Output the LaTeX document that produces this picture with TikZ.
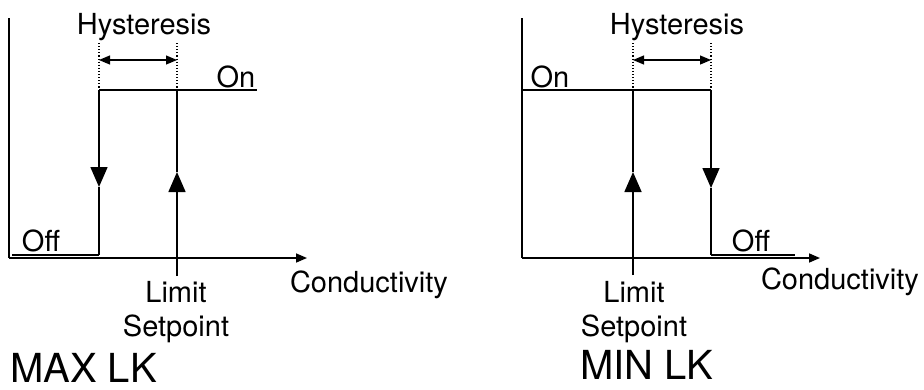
\documentclass[tikz,border=0pt]{standalone}
\usepackage{fontspec}
\setmainfont{TeX Gyre Heros}
\usetikzlibrary{arrows.meta, positioning}

\tikzset{
  lbl/.style={font=\fontsize{29}{34}\selectfont, inner sep=0pt, align=center},
  ttl/.style={font=\fontsize{40}{44}\selectfont, inner sep=0pt, anchor=base west},
  ln/.style={line width=1.6pt},
  guide/.style={line width=1.1pt, dotted},
  flow/.style={ln, -{Triangle[width=17pt,length=20pt]}},
  span/.style={line width=1.2pt, {Triangle[width=9pt,length=11pt]}-{Triangle[width=9pt,length=11pt]}},
  axis/.style={ln, -{Triangle[width=9pt,length=11pt]}}
}

\begin{document}
\begin{tikzpicture}[x=1pt, y=-1pt]
  \useasboundingbox (0,0) rectangle (924,389);

  % MAX LK
  \coordinate (maxTop) at (9,18);
  \coordinate (maxO) at (9,258);
  \coordinate (maxEnd) at (307,258);
  \coordinate (maxOffA) at (12,255);
  \coordinate (maxOffB) at (99,255);
  \coordinate (maxDnTop) at (99,90);
  \coordinate (maxDnMid) at (99,187);
  \coordinate (maxUpTop) at (177,90);
  \coordinate (maxUpMid) at (177,172);
  \coordinate (maxUpBot) at (177,276);
  \coordinate (maxOnEnd) at (257,90);
  \coordinate (maxHysA) at (99,43);
  \coordinate (maxHysB) at (177,43);
  \coordinate (maxSpanA) at (99,60);
  \coordinate (maxSpanB) at (177,60);

  \draw[ln] (maxTop) -- (maxO);
  \draw[axis] (maxO) -- (maxEnd);
  \draw[ln] (maxOffA) -- (maxOffB);
  \draw[ln] (maxDnTop) -- (maxOnEnd);
  \draw[flow] (maxDnTop) -- (maxDnMid);
  \draw[ln] (maxDnMid) -- (maxOffB);
  \draw[flow] (maxUpBot) -- (maxUpMid);
  \draw[ln] (maxUpMid) -- (maxUpTop);
  \draw[guide] (maxHysA) -- (maxDnTop);
  \draw[guide] (maxHysB) -- (maxUpTop);
  \draw[span] (maxSpanA) -- (maxSpanB);

  \node[lbl] (maxHys) at (144,27) {Hysteresis};
  \node[lbl] (maxOn) at (236,77) {On};
  \node[lbl] (maxOff) at (41,241) {Off};
  \node[lbl] (maxSet) at (176,312) {Limit\\Setpoint};
  \node[lbl] (maxCond) at (369,285) {Conductivity};
  \node[ttl] (maxTitle) at (10,382) {MAX LK};

  % MIN LK
  \coordinate (minTop) at (522,18);
  \coordinate (minO) at (522,258);
  \coordinate (minEnd) at (820,258);
  \coordinate (minOnA) at (522,90);
  \coordinate (minUpTop) at (633,90);
  \coordinate (minUpMid) at (633,172);
  \coordinate (minUpBot) at (633,275);
  \coordinate (minDnTop) at (711,90);
  \coordinate (minDnMid) at (711,188);
  \coordinate (minOffA) at (711,255);
  \coordinate (minOffB) at (795,255);
  \coordinate (minHysA) at (633,43);
  \coordinate (minHysB) at (711,43);
  \coordinate (minSpanA) at (633,60);
  \coordinate (minSpanB) at (711,60);

  \draw[ln] (minTop) -- (minO);
  \draw[axis] (minO) -- (minEnd);
  \draw[ln] (minOnA) -- (minDnTop);
  \draw[flow] (minUpBot) -- (minUpMid);
  \draw[ln] (minUpMid) -- (minUpTop);
  \draw[flow] (minDnTop) -- (minDnMid);
  \draw[ln] (minDnMid) -- (minOffA);
  \draw[ln] (minOffA) -- (minOffB);
  \draw[guide] (minHysA) -- (minUpTop);
  \draw[guide] (minHysB) -- (minDnTop);
  \draw[span] (minSpanA) -- (minSpanB);

  \node[lbl] (minHys) at (677,27) {Hysteresis};
  \node[lbl] (minOn) at (550,77) {On};
  \node[lbl] (minOff) at (751,241) {Off};
  \node[lbl] (minSet) at (634,312) {Limit\\Setpoint};
  \node[lbl] (minCond) at (840,282) {Conductivity};
  \node[ttl] (minTitle) at (580,379) {MIN LK};
\end{tikzpicture}
\end{document}
